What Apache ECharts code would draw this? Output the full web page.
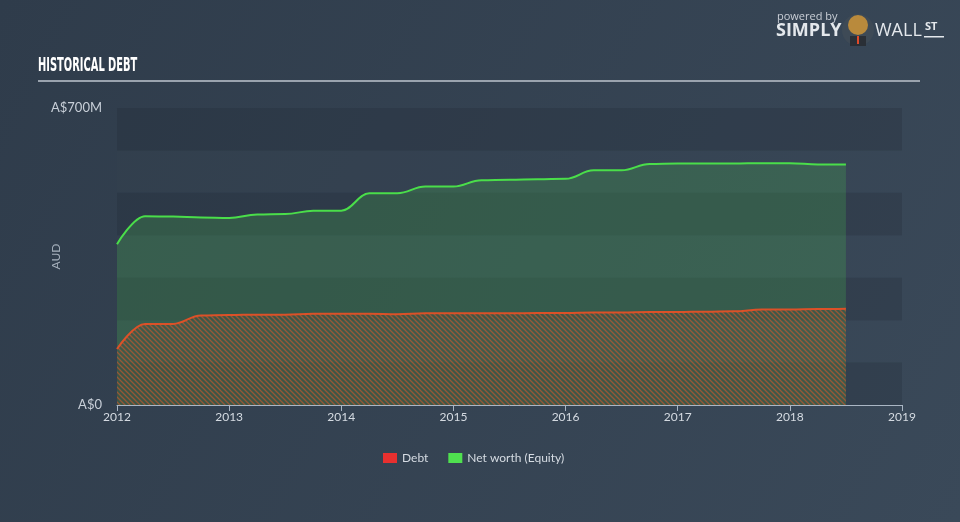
<!DOCTYPE html>
<html>
<head>
<meta charset="utf-8">
<script src="https://cdn.jsdelivr.net/npm/echarts@6/dist/echarts.min.js"></script>
<style>
html,body{margin:0;padding:0;background:#334151;}
#chart{width:960px;height:522px;}
</style>
</head>
<body>
<div id="chart"></div>
<script>
// Data (A$ millions), x in fractional years
const dates = [2012.0, 2012.25, 2012.5, 2012.75, 2013.0, 2013.25, 2013.5, 2013.75,
  2014.0, 2014.25, 2014.5, 2014.75, 2015.0, 2015.25, 2015.5, 2015.75,
  2016.0, 2016.25, 2016.5, 2016.75, 2017.0, 2017.25, 2017.5, 2017.75,
  2018.0, 2018.25, 2018.5];
const debtValues = [132, 191, 191, 211, 212, 213, 213, 215,
  215, 215, 214, 216, 216, 216, 216, 217,
  217, 218, 218, 219, 219, 220, 221, 225,
  225, 226, 227];
const equityValues = [379, 445, 444, 442, 441, 449, 450, 458,
  458, 499, 499, 515, 515, 530, 531, 532,
  533, 553, 553, 568, 569, 569, 569, 570,
  570, 567, 567];
const yearTicks = [2012, 2013, 2014, 2015, 2016, 2017, 2018, 2019];
const yLabels = {0: 'A$0', 700: 'A$700M'};
const seriesNames = ['Debt', 'Net worth (Equity)'];

const debtData = dates.map((d, i) => [d, debtValues[i]]);
const equityData = dates.map((d, i) => [d, equityValues[i]]);

// hatch pattern for debt area
const pc = document.createElement('canvas');
pc.width = 5; pc.height = 5;
const pctx = pc.getContext('2d');
pctx.fillStyle = 'rgba(90,80,60,0.35)';
pctx.fillRect(0, 0, 5, 5);
pctx.strokeStyle = 'rgba(214,86,44,0.85)';
pctx.lineWidth = 1.3;
pctx.beginPath();
pctx.moveTo(0, 0); pctx.lineTo(5, 5);
pctx.moveTo(-5, 0); pctx.lineTo(5, 10);
pctx.moveTo(0, -5); pctx.lineTo(10, 5);
pctx.stroke();

const chart = echarts.init(document.getElementById('chart'), null, {renderer: 'canvas'});
const option = {
  backgroundColor: {
    type: 'linear', x: 0, y: 0, x2: 1, y2: 1,
    colorStops: [{offset: 0, color: '#2f3c4b'}, {offset: 1, color: '#3a4959'}]
  },
  animation: false,
  grid: {left: 117, right: 58, top: 108, bottom: 117},
  legend: {
    data: [{name: seriesNames[0], icon: 'rect'}, {name: seriesNames[1], icon: 'rect'}],
    bottom: 53, left: 378,
    itemWidth: 14, itemHeight: 10, itemGap: 20,
    textStyle: {color: '#d5dbe2', fontSize: 12, fontFamily: 'Lato, "Open Sans", sans-serif'}
  },
  xAxis: {
    type: 'value', min: 2012, max: 2019, interval: 1,
    axisLine: {show: true, lineStyle: {color: '#aab6c4', width: 1}},
    axisTick: {show: true, length: 6, lineStyle: {color: '#aab6c4'}},
    splitLine: {show: false},
    axisLabel: {color: '#d5dbe2', fontSize: 12, margin: 6, fontFamily: 'Lato, "Open Sans", sans-serif',
      formatter: v => String(Math.round(v))}
  },
  yAxis: {
    type: 'value', min: 0, max: 700, interval: 100,
    name: 'AUD', nameLocation: 'middle', nameGap: 55, nameMoveOverlap: false,
    nameTextStyle: {color: '#a6b0bc', fontSize: 12, fontFamily: 'Lato, "Open Sans", sans-serif'},
    axisLine: {show: false}, axisTick: {show: false},
    splitLine: {show: false},
    splitArea: {show: true, areaStyle: {color: ['rgba(30,40,52,0.25)', 'rgba(60,75,92,0.08)']}},
    axisLabel: {color: '#c8cfd8', fontSize: 13, margin: 15, fontFamily: 'Lato, "Open Sans", sans-serif',
      formatter: v => (yLabels[v] !== undefined ? yLabels[v] : '')}
  },
  series: [
    {
      name: seriesNames[1], type: 'line', data: equityData,
      smooth: 0.4, smoothMonotone: 'x', showSymbol: false, symbol: 'none',
      itemStyle: {color: '#4fe04f'},
      lineStyle: {color: '#4ade4a', width: 2},
      areaStyle: {color: 'rgba(72,175,80,0.38)'},
      z: 2
    },
    {
      name: seriesNames[0], type: 'line', data: debtData,
      smooth: 0.4, smoothMonotone: 'x', showSymbol: false, symbol: 'none',
      itemStyle: {color: '#e8302f'},
      lineStyle: {color: '#dc5128', width: 2},
      areaStyle: {color: {image: pc, repeat: 'repeat'}},
      z: 3
    }
  ],
  graphic: [
    {type: 'text', x: 38, y: 57, scaleX: 0.52, style: {text: 'HISTORICAL DEBT', fill: '#ffffff',
      font: 'bold 19px "DejaVu Sans", sans-serif'}},
    {type: 'rect', shape: {x: 38, y: 80, width: 882, height: 2}, style: {fill: '#9aa3ae'}},
    {type: 'text', left: 777, top: 11, style: {text: 'powered by', fill: '#c9ced6',
      font: '11px "Open Sans", sans-serif'}},
    {type: 'text', left: 776, top: 22, style: {text: 'SIMPLY', fill: '#e4e8ec',
      font: 'bold 18px "Open Sans", sans-serif'}},
    {type: 'circle', shape: {cx: 858, cy: 30, r: 16}, style: {fill: '#3e4a56'}},
    {type: 'circle', shape: {cx: 858, cy: 25, r: 10}, style: {fill: '#b98a3c'}},
    {type: 'rect', shape: {x: 850, y: 36, width: 16, height: 10}, style: {fill: '#2a2f36'}},
    {type: 'rect', shape: {x: 857, y: 36, width: 2, height: 8}, style: {fill: '#e04a2a'}},
    {type: 'text', left: 875, top: 22, style: {text: 'WALL', fill: '#e4e8ec',
      font: '18px "Open Sans", sans-serif'}},
    {type: 'text', left: 925, top: 21, style: {text: 'ST', fill: '#e4e8ec',
      font: 'bold 11px "Open Sans", sans-serif'}},
    {type: 'rect', shape: {x: 924, y: 36, width: 20, height: 1.5}, style: {fill: '#e4e8ec'}}
  ]
};
chart.setOption(option);
</script>
</body>
</html>
